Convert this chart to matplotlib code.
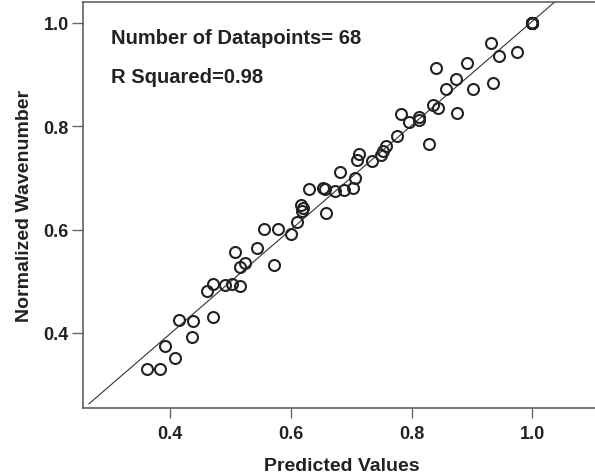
import numpy as np
import matplotlib
matplotlib.use("Agg")
import matplotlib.pyplot as plt

plt.rcParams['font.family'] = ['Liberation Sans', 'DejaVu Sans']

# Predicted values (x) and normalized wavenumber (y) for each sample
predicted = [
    1.000, 1.000, 1.000, 1.000, 1.000, 1.000, 1.000, 1.000, 1.000, 1.000,
    0.931, 0.945, 0.975, 0.891, 0.840, 0.874, 0.935, 0.857, 0.902,
    0.835, 0.844, 0.875, 0.782, 0.812, 0.813, 0.796, 0.776, 0.829,
    0.758, 0.753, 0.749, 0.734, 0.713, 0.709, 0.681, 0.707, 0.703,
    0.688, 0.674, 0.654, 0.657, 0.630, 0.617, 0.620, 0.619, 0.659,
    0.610, 0.555, 0.579, 0.601, 0.545, 0.507, 0.524, 0.516, 0.572,
    0.471, 0.461, 0.491, 0.502, 0.516, 0.415, 0.438, 0.472, 0.436,
    0.392, 0.408, 0.362, 0.383,
]
wavenumber = [
    1.000, 1.000, 1.000, 1.000, 1.000, 1.000, 1.000, 1.000, 1.000, 1.000,
    0.961, 0.937, 0.943, 0.922, 0.912, 0.892, 0.883, 0.872, 0.872,
    0.841, 0.836, 0.825, 0.823, 0.818, 0.812, 0.808, 0.782, 0.766,
    0.762, 0.753, 0.745, 0.732, 0.746, 0.735, 0.711, 0.699, 0.681,
    0.677, 0.675, 0.680, 0.678, 0.678, 0.647, 0.641, 0.636, 0.632,
    0.615, 0.601, 0.601, 0.591, 0.564, 0.557, 0.536, 0.528, 0.532,
    0.494, 0.481, 0.492, 0.494, 0.491, 0.426, 0.423, 0.431, 0.392,
    0.375, 0.352, 0.331, 0.331,
]
r_squared = 0.98

x_ticks = [0.4, 0.6, 0.8, 1.0]
y_ticks = [0.4, 0.6, 0.8, 1.0]

x = np.array(predicted)
y = np.array(wavenumber)

fig = plt.figure(figsize=(5.95, 4.77), dpi=100)
ax = fig.add_axes([0.1403, 0.1436, 0.8697, 0.8495])

ax.set_xlim(0.257, 1.1135)
ax.set_ylim(0.2558, 1.040)

ink = '#222222'
spine_c = '#555555'

# least-squares fit line across the plotted range
slope, intercept = np.polyfit(x, y, 1)
fx = np.array([0.266, 1.1])
ax.plot(fx, intercept + slope * fx, color='#333333', lw=0.8, zorder=2)

ax.plot(x, y, linestyle='none', marker='o', markersize=7.9,
        markerfacecolor='none', markeredgecolor=ink, markeredgewidth=1.5,
        zorder=3)

for side in ('left', 'bottom', 'top'):
    ax.spines[side].set_color(spine_c)
    ax.spines[side].set_linewidth(1.1)
ax.spines['right'].set_visible(False)

ax.set_xticks(x_ticks)
ax.set_yticks(y_ticks)
ax.set_xticklabels([f'{v:.1f}' for v in x_ticks])
ax.set_yticklabels([f'{v:.1f}' for v in y_ticks])
ax.tick_params(axis='both', direction='out', width=1.0,
               color='#666666', labelsize=13, labelcolor=ink)
ax.tick_params(axis='x', length=7.5, pad=5)
ax.tick_params(axis='y', length=8, pad=2.5)
for lab in ax.get_xticklabels() + ax.get_yticklabels():
    lab.set_fontweight('bold')

ax.set_xlabel('Predicted Values', fontsize=14, fontweight='bold', color=ink,
              labelpad=11)
ax.set_ylabel('Normalized Wavenumber', fontsize=14, fontweight='bold',
              color=ink, labelpad=8)

fig.text(0.1866, 0.9071, f'Number of Datapoints= {len(x)}', fontsize=14.5,
         fontweight='bold', color=ink, va='baseline')
fig.text(0.1866, 0.8266, f'R Squared={r_squared:.2f}', fontsize=14.5,
         fontweight='bold', color=ink, va='baseline')

fig.savefig('out.png', dpi=100)
